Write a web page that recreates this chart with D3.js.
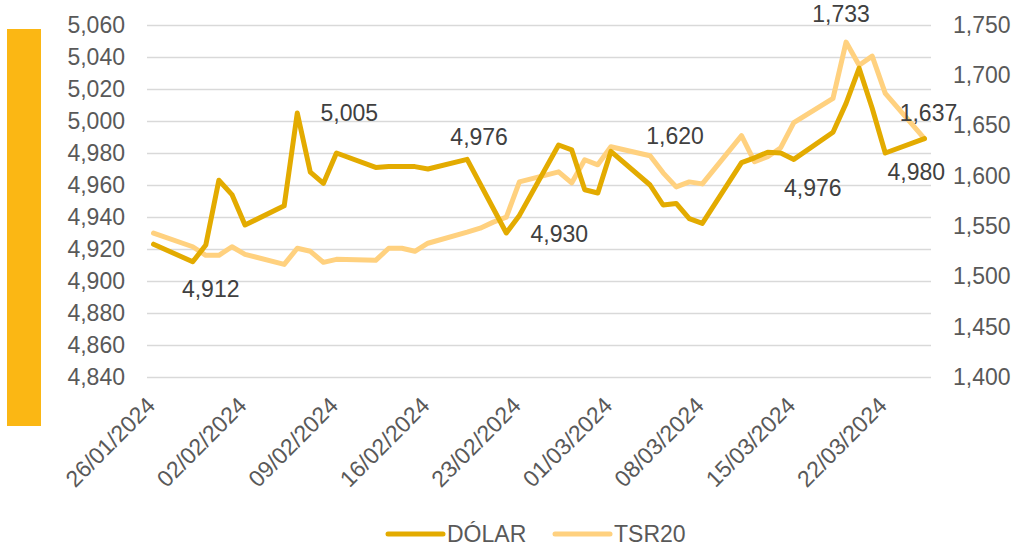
<!DOCTYPE html>
<html>
<head>
<meta charset="utf-8">
<script src="https://cdn.jsdelivr.net/npm/d3@7"></script>
<style>
  html, body { margin:0; padding:0; background:#fff; }
  svg text { font-family: "Liberation Sans", Arial, sans-serif; }
</style>
</head>
<body>
<svg id="chart" width="1016" height="547"></svg>
<script>
// data
const dates = ['26/01/2024','29/01/2024','30/01/2024','31/01/2024','01/02/2024','02/02/2024',
  '05/02/2024','06/02/2024','07/02/2024','08/02/2024','09/02/2024',
  '12/02/2024','13/02/2024','14/02/2024','15/02/2024','16/02/2024',
  '19/02/2024','20/02/2024','21/02/2024','22/02/2024','23/02/2024',
  '26/02/2024','27/02/2024','28/02/2024','29/02/2024','01/03/2024',
  '04/03/2024','05/03/2024','06/03/2024','07/03/2024','08/03/2024',
  '11/03/2024','12/03/2024','13/03/2024','14/03/2024','15/03/2024',
  '18/03/2024','19/03/2024','20/03/2024','21/03/2024','22/03/2024','25/03/2024'];
const dolar = [4923,4912,4922.5,4963,4954,4935,
  4947,5005,4968,4961,4980,
  4971,4971.5,4971.5,4971.5,4970,
  4976,null,null,4930,4941,
  4985,4982,4957,4955,4981,
  4960,4947.5,4948.5,4939,4936,
  4974,4977,4980.5,4980,4976,
  4993,5011,5033,5008,4980,4989];
const tsr20 = [1543,1529.5,1521,1521,1529.5,1522,
  1512,1528,1525,1514,1517,
  1516,1528,1528,1525,1533,
  1544,1548,1554,1559,1594,
  1604,1593,1616,1611,1629,
  1620,1603,1589,1594,1592,
  1640,1614,1619,1628,1653,
  1677,1733,1710,1719,1682,1637];
const leftTicks = [4840,4860,4880,4900,4920,4940,4960,4980,5000,5020,5040,5060];
const rightTicks = [1400,1450,1500,1550,1600,1650,1700,1750];
const xTickLabels = ['26/01/2024','02/02/2024','09/02/2024','16/02/2024','23/02/2024',
  '01/03/2024','08/03/2024','15/03/2024','22/03/2024'];
// which points carry a data label: [series, date, dx, dy]
const dataLabels = [
  ['dolar','29/01/2024',18,35],
  ['dolar','06/02/2024',52,8],
  ['dolar','19/02/2024',12,-14],
  ['dolar','22/02/2024',53,9],
  ['tsr20','04/03/2024',25,-12],
  ['dolar','15/03/2024',19,37],
  ['tsr20','19/03/2024',-5,-20],
  ['dolar','22/03/2024',31,27],
  ['tsr20','25/03/2024',4,-18]
];

const parse = d3.timeParse('%d/%m/%Y');
const fmt = d3.format(',.0f');
const C_DOLAR = '#E3AB00', C_TSR = '#FFD17F';
const FS = 23;

const svg = d3.select('#chart');
const plotL = 147, plotR = 931, plotT = 25, plotB = 377;

// yellow side bar
svg.append('rect').attr('x',7).attr('y',29).attr('width',34).attr('height',397).attr('fill','#FBB714');

const x = d3.scaleTime()
  .domain([d3.timeHour.offset(parse(dates[0]),-12), d3.timeHour.offset(parse(dates[dates.length-1]),12)])
  .range([plotL,plotR]);
const yL = d3.scaleLinear().domain([4840,5060]).range([plotB,plotT]);
const yR = d3.scaleLinear().domain([1400,1750]).range([plotB,plotT]);

// grid
svg.append('g').attr('transform',`translate(${plotL},0)`)
  .call(d3.axisLeft(yL).tickValues(leftTicks).tickSize(-(plotR-plotL)).tickFormat(''))
  .call(g => g.select('.domain').remove())
  .call(g => g.selectAll('line').attr('stroke','#D9D9D9').attr('stroke-width',1.5));

// left axis
svg.append('g').attr('transform',`translate(${plotL},0)`)
  .call(d3.axisLeft(yL).tickValues(leftTicks).tickSize(0).tickPadding(22).tickFormat(d3.format(',')))
  .call(g => g.select('.domain').remove())
  .call(g => g.selectAll('text').attr('fill','#595959').attr('font-size',FS)
    .attr('font-family','"Liberation Sans", Arial, sans-serif'));

// right axis
svg.append('g').attr('transform',`translate(${plotR},0)`)
  .call(d3.axisRight(yR).tickValues(rightTicks).tickSize(0).tickPadding(22).tickFormat(d3.format(',')))
  .call(g => g.select('.domain').remove())
  .call(g => g.selectAll('text').attr('fill','#595959').attr('font-size',FS)
    .attr('font-family','"Liberation Sans", Arial, sans-serif'));

// x labels, rotated
svg.append('g').selectAll('text').data(xTickLabels).enter().append('text')
  .attr('transform', d => `translate(${x(parse(d))+3},${plotB+30}) rotate(-45)`)
  .attr('text-anchor','end')
  .attr('fill','#595959').attr('font-size',FS)
  .text(d => d);

const rows = dates.map((d,i) => ({ date: parse(d), key: d, dolar: dolar[i], tsr20: tsr20[i] }));

const lineD = d3.line().x(d => x(d.date)).y(d => yL(d.dolar));
const lineT = d3.line().x(d => x(d.date)).y(d => yR(d.tsr20));

svg.append('path').datum(rows.filter(r => r.tsr20 != null))
  .attr('d', lineT).attr('fill','none').attr('stroke',C_TSR)
  .attr('stroke-width',5).attr('stroke-linejoin','round').attr('stroke-linecap','round');
svg.append('path').datum(rows.filter(r => r.dolar != null))
  .attr('d', lineD).attr('fill','none').attr('stroke',C_DOLAR)
  .attr('stroke-width',5).attr('stroke-linejoin','round').attr('stroke-linecap','round');

// data labels
svg.append('g').selectAll('text').data(dataLabels).enter().append('text')
  .each(function(l) {
    const r = rows.find(r => r.key === l[1]);
    const v = r[l[0]];
    const px = x(r.date), py = l[0] === 'dolar' ? yL(v) : yR(v);
    d3.select(this).attr('x', px + l[2]).attr('y', py + l[3]).text(fmt(v));
  })
  .attr('text-anchor','middle').attr('fill','#404040').attr('font-size',FS);

// legend
const legend = [['DÓLAR',C_DOLAR,388],['TSR20',C_TSR,555]];
const lg = svg.append('g').selectAll('g').data(legend).enter().append('g');
lg.append('line').attr('x1',d => d[2]).attr('x2',d => d[2]+55).attr('y1',534).attr('y2',534)
  .attr('stroke',d => d[1]).attr('stroke-width',5).attr('stroke-linecap','round');
lg.append('text').attr('x',d => d[2]+59).attr('y',534).attr('dy','0.36em')
  .attr('fill','#595959').attr('font-size',FS).text(d => d[0]);
</script>
</body>
</html>
